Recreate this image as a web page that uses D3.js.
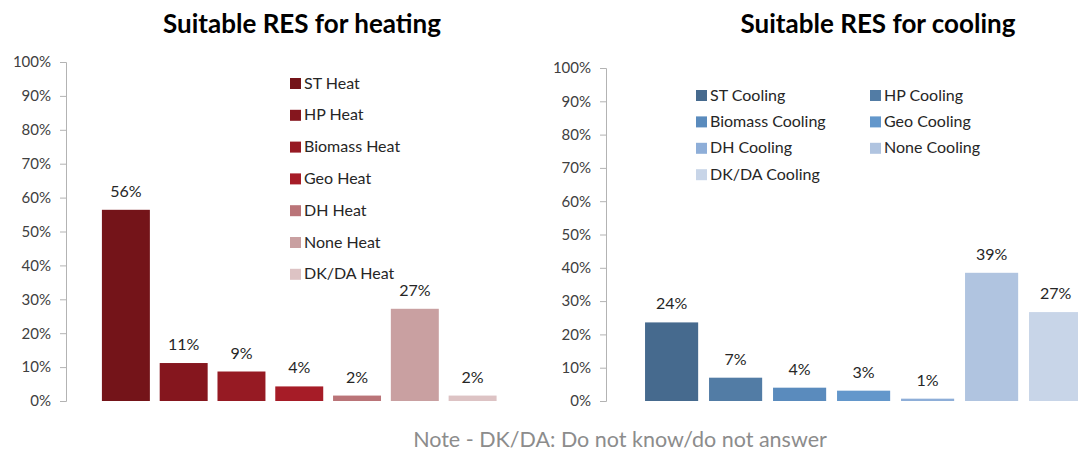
<!DOCTYPE html>
<html lang="en">
  <head>
    <meta charset="UTF-8" />
    <title>Suitable RES for heating and cooling</title>
    <script src="https://d3js.org/d3.v7.min.js"></script>
    <style>
      body {
        margin: 0;
        background: #fff;
        font-family: "Lato", "Open Sans", sans-serif;
      }
      .tick text {
        fill: #404040;
      }
    </style>
  </head>
  <body>
    <svg id="chart" width="1078" height="453"></svg>

    <script>
      const heatSeries = ["ST Heat", "HP Heat", "Biomass Heat", "Geo Heat", "DH Heat", "None Heat", "DK/DA Heat"];
      const heatValues = [0.564, 0.112, 0.087, 0.043, 0.016, 0.272, 0.016];
      const heatColors = ["#741419", "#85161e", "#961a23", "#a61c27", "#ba7478", "#c9a0a1", "#ddc3c4"];

      const coolSeries = ["ST Cooling", "HP Cooling", "Biomass Cooling", "Geo Cooling", "DH Cooling", "None Cooling", "DK/DA Cooling"];
      const coolValues = [0.236, 0.07, 0.04, 0.031, 0.007, 0.385, 0.267];
      const coolColors = ["#466a8e", "#527ca5", "#5a8bbd", "#6397cb", "#8eaed8", "#b0c4e0", "#c8d5e8"];

      const yTicks = [0, 0.1, 0.2, 0.3, 0.4, 0.5, 0.6, 0.7, 0.8, 0.9, 1];

      const svg = d3.select("#chart");
      const pct = d3.format(".0%");

      function panel(opts) {
        const g = svg.append("g");

        const y = d3.scaleLinear().domain([0, 1]).range([opts.bottom, opts.top]);
        const x = d3.scaleBand().domain(opts.series).range(opts.xRange).paddingInner(0.17).paddingOuter(0.085);
        const color = d3.scaleOrdinal().domain(opts.series).range(opts.colors);

        const yAxis = g
          .append("g")
          .attr("transform", `translate(${opts.axisX},0)`)
          .call(d3.axisLeft(y).tickValues(yTicks).tickFormat(pct).tickSize(6).tickPadding(9));
        yAxis.selectAll("line, path").attr("stroke", "#b3b3b3");
        yAxis.selectAll("text").attr("font-size", 15).attr("font-family", "Lato, sans-serif");

        const data = opts.series.map((s, i) => ({ name: s, value: opts.values[i] }));

        g.selectAll("rect.bar")
          .data(data)
          .enter()
          .append("rect")
          .attr("class", "bar")
          .attr("x", (d) => x(d.name))
          .attr("width", x.bandwidth())
          .attr("y", (d) => y(d.value))
          .attr("height", (d) => y(0) - y(d.value))
          .attr("fill", (d) => color(d.name));

        g.selectAll("text.lbl")
          .data(data)
          .enter()
          .append("text")
          .attr("class", "lbl")
          .attr("x", (d) => x(d.name) + x.bandwidth() / 2)
          .attr("y", (d) => y(d.value) - 13)
          .attr("text-anchor", "middle")
          .attr("font-size", 16)
          .attr("fill", "#262626")
          .text((d) => pct(Math.round(d.value * 100) / 100));

        g.append("text")
          .attr("x", opts.titleX)
          .attr("y", 33)
          .attr("text-anchor", "middle")
          .attr("font-size", 26)
          .attr("font-weight", "bold")
          .attr("fill", "#000")
          .text(opts.title);

        const leg = g
          .selectAll("g.leg")
          .data(data)
          .enter()
          .append("g")
          .attr("class", "leg")
          .attr("transform", (d, i) => {
            const col = i % opts.legCols;
            const row = Math.floor(i / opts.legCols);
            return `translate(${opts.legX + col * opts.legColW},${opts.legY + row * opts.legRowH})`;
          });
        leg.append("rect").attr("x", 0).attr("y", -5).attr("width", 11).attr("height", 11).attr("fill", (d) => color(d.name));
        leg
          .append("text")
          .attr("x", 14)
          .attr("y", 5.5)
          .attr("font-size", 16)
          .attr("fill", "#262626")
          .text((d) => d.name);
      }

      panel({
        series: heatSeries,
        values: heatValues,
        colors: heatColors,
        title: "Suitable RES for heating",
        titleX: 302,
        top: 62,
        bottom: 401,
        axisX: 66,
        xRange: [97, 501.5],
        legX: 290,
        legY: 83,
        legCols: 1,
        legColW: 0,
        legRowH: 31.8,
      });

      panel({
        series: coolSeries,
        values: coolValues,
        colors: coolColors,
        title: "Suitable RES for cooling",
        titleX: 878,
        top: 68,
        bottom: 401,
        axisX: 606,
        xRange: [639.6, 1087.6],
        legX: 696,
        legY: 95,
        legCols: 2,
        legColW: 174,
        legRowH: 26.4,
      });

      svg
        .append("text")
        .attr("x", 620)
        .attr("y", 447)
        .attr("text-anchor", "middle")
        .attr("font-size", 21.5)
        .attr("fill", "#8c8c8c")
        .text("Note - DK/DA: Do not know/do not answer");
    </script>
  </body>
</html>
